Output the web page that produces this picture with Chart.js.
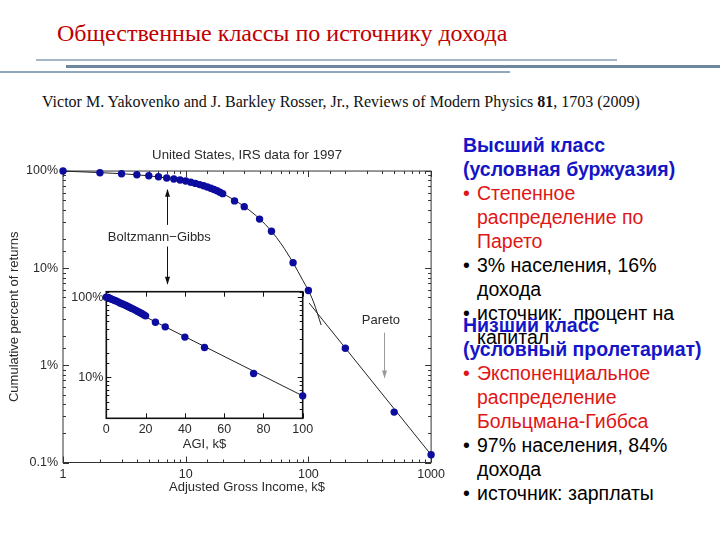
<!DOCTYPE html>
<html><head><meta charset="utf-8">
<script src="https://cdn.jsdelivr.net/npm/chart.js@4"></script>
<style>
html,body{margin:0;padding:0;background:#fff;}
body{width:720px;height:540px;position:relative;overflow:hidden;font-family:"Liberation Sans",Arial,sans-serif;}
#title{position:absolute;left:57px;top:18px;font-family:"Liberation Serif","Times New Roman",serif;font-size:24px;color:#c00000;white-space:nowrap;line-height:30px}
.hl{position:absolute;height:2px;}
#cite{position:absolute;left:42px;top:92px;font-family:"Liberation Serif","Times New Roman",serif;font-size:16px;color:#111;white-space:nowrap;line-height:20px}
.blk{position:absolute;left:463px;font-size:19.5px;line-height:24px;white-space:nowrap;color:#000}
.h{font-weight:bold;color:#1515c8}
.it{position:relative;padding-left:14px}
.it:before{content:"\2022";position:absolute;left:0;top:0}
.red{color:#e01515}
canvas{position:absolute}
</style></head>
<body>
<div id="title">Общественные классы по источнику дохода</div>
<div class="hl" style="left:36px;width:581px;top:59px;background:#a6b8c7"></div>
<div class="hl" style="left:66px;width:654px;top:65px;height:2.5px;background:#6d889e"></div>
<div class="hl" style="left:0;width:510px;top:71px;background:#8fa8bc"></div>
<div id="cite">Victor M. Yakovenko and J. Barkley Rosser, Jr., Reviews of Modern Physics <b>81</b>, 1703 (2009)</div>

<canvas id="main" width="450" height="360" style="left:0;top:140px"></canvas>
<canvas id="inset" width="290" height="190" style="left:40px;top:270px"></canvas>

<div class="blk" style="top:133px">
<div class="h">Высший класс</div>
<div class="h">(условная буржуазия)</div>
<div class="it red">Степенное<br>распределение по<br>Парето</div>
<div class="it">3% населения, 16%<br>дохода</div>
<div class="it">источник:&nbsp; процент на<br>капитал</div>
</div>
<div class="blk" style="top:313px">
<div class="h">Низший класс</div>
<div class="h">(условный пролетариат)</div>
<div class="it red">Экспоненциальное<br>распределение<br>Больцмана-Гиббса</div>
<div class="it">97% населения, 84%<br>дохода</div>
<div class="it">источник: зарплаты</div>
</div>

<script>
// ---- data ----
const agiMain = [1,2,3,4,5,6,7,8,9,10,11,12,13,14,15,16,17,18,19,20,25,30,40,50,75,100,200,500,1000];
const pctMain = [100,96.1,93.8,91.6,89.5,87.4,84.7,82.8,80.8,79,76.8,74.6,72.5,70.5,68.5,66.5,64.5,62.7,60.5,58.5,49.3,43,32,24,11.4,5.9,1.5,0.33,0.12];

const agiInset = [0,1,2,3,4,5,6,7,8,9,10,11,12,13,14,15,16,17,18,19,20,25,30,40,50,75,100];
const pctInset = [100,99,96.1,93.8,91.6,89.5,87.4,84.7,82.8,80.8,79,76.8,74.6,72.5,70.5,68.5,66.5,64.5,62.7,60.5,58.5,48.8,42.7,31.8,23.6,11.2,5.9];

const bgFitAgi = [1,2,4,7,10,15,20,30,40,50,60,75,90,100,110,127];
const bgFitPct = [100,96.3,91.6,84.8,79,68.6,58.6,43.2,32.2,24,17.8,11.4,7.5,5.9,4.5,2.6];

const paretoAgi = [101.5,1000];
const paretoPct = [4.37,0.12];

const insetFitAgi = [0,100];
const insetFitPct = [100,5.9];

const mainXTicks = [1,10,100,1000];
const mainYTicks = [0.1,1,10,100];
const insetYTicks = [10,100];

// ---- helpers ----
const pts = (xs, ys) => xs.map((x, i) => ({x, y: ys[i]}));
const near = (v, list) => list.some(t => Math.abs(v - t) < 1e-6 * Math.max(1, t));
const pctLabel = v => (v < 1 ? v.toFixed(1) : String(Math.round(v))) + '%';
const DOT = '#0c0c9e';
const TXT = '#2a2a2a';
const FAM = '"Liberation Sans", Arial, sans-serif';

const frameTicks = {
  id: 'frameTicks',
  beforeDatasetsDraw(chart, args, o) {
    const {ctx, chartArea: a, scales} = chart;
    ctx.save();
    ctx.strokeStyle = o.color;
    ctx.lineWidth = 1;
    ctx.beginPath();
    scales.x.ticks.forEach(t => {
      const p = Math.round(scales.x.getPixelForValue(t.value)) + 0.5;
      const len = t.label ? o.major : o.minor;
      ctx.moveTo(p, a.bottom); ctx.lineTo(p, a.bottom - len);
      ctx.moveTo(p, a.top); ctx.lineTo(p, a.top + len);
    });
    scales.y.ticks.forEach(t => {
      const p = Math.round(scales.y.getPixelForValue(t.value)) + 0.5;
      const len = t.label ? o.major : o.minor;
      ctx.moveTo(a.left, p); ctx.lineTo(a.left + len, p);
      ctx.moveTo(a.right, p); ctx.lineTo(a.right - len, p);
    });
    ctx.stroke();
    ctx.lineWidth = o.width;
    ctx.strokeRect(a.left, a.top, a.right - a.left, a.bottom - a.top);
    ctx.restore();
  }
};

function arrow(ctx, x, y0, y1, color) {
  ctx.strokeStyle = color; ctx.fillStyle = color; ctx.lineWidth = 1;
  ctx.beginPath(); ctx.moveTo(x, y0); ctx.lineTo(x, y1); ctx.stroke();
  const d = Math.sign(y1 - y0);
  ctx.beginPath(); ctx.moveTo(x, y1 + d); ctx.lineTo(x - 2.5, y1 - d * 7); ctx.lineTo(x + 2.5, y1 - d * 7); ctx.closePath(); ctx.fill();
}

const annotations = {
  id: 'annotations',
  afterDatasetsDraw(chart) {
    const {ctx, scales: {x, y}} = chart;
    ctx.save();
    ctx.font = '13px ' + FAM;
    ctx.fillStyle = TXT;
    ctx.textAlign = 'center';
    ctx.textBaseline = 'middle';
    ctx.fillText('Boltzmann\u2212Gibbs', x.getPixelForValue(6.1), y.getPixelForValue(20.6));
    ctx.fillText('Pareto', x.getPixelForValue(390), y.getPixelForValue(2.9));
    const bx = Math.round(x.getPixelForValue(7.05)) + 0.5;
    arrow(ctx, bx, y.getPixelForValue(27.9), y.getPixelForValue(64), '#111');
    arrow(ctx, bx, y.getPixelForValue(16.7), y.getPixelForValue(6.9), '#111');
    const px = Math.round(x.getPixelForValue(413)) + 0.5;
    arrow(ctx, px, y.getPixelForValue(2.17), y.getPixelForValue(0.75), '#9a9a9a');
    ctx.restore();
  }
};

Chart.defaults.font.family = FAM;
Chart.defaults.color = TXT;

new Chart(document.getElementById('main'), {
  type: 'line',
  data: {
    datasets: [
      {data: pts(agiMain, pctMain), showLine: false, pointRadius: 3.7, pointBackgroundColor: DOT, pointBorderWidth: 0, clip: false},
      {data: pts(bgFitAgi, bgFitPct), borderColor: '#222', borderWidth: 1, pointRadius: 0, cubicInterpolationMode: 'monotone', clip: false},
      {data: pts(paretoAgi, paretoPct), borderColor: '#222', borderWidth: 1, pointRadius: 0, clip: false}
    ]
  },
  options: {
    responsive: false, animation: false, events: [],
    layout: {padding: {left: 0, right: 16, top: 0, bottom: 0}},
    plugins: {
      legend: {display: false}, tooltip: {enabled: false},
      title: {display: true, text: 'United States, IRS data for 1997', color: TXT, fullSize: false,
              font: {size: 13.2, weight: 'normal'}, padding: {top: 7, bottom: 8.2}},
      frameTicks: {color: '#333', width: 1, major: 6, minor: 3}
    },
    scales: {
      x: {type: 'logarithmic', min: 1, max: 1000, position: 'bottom',
          grid: {display: false, drawTicks: false}, border: {display: false},
          ticks: {autoSkip: false, maxRotation: 0, padding: 5, font: {size: 12.5},
                  callback: v => near(v, mainXTicks) ? String(Math.round(v)) : ''},
          title: {display: true, text: 'Adjusted Gross Income, k$', font: {size: 13}, padding: {top: 0, bottom: 5}},
          afterFit: s => { s.height = 37.5; }},
      y: {type: 'logarithmic', min: 0.1, max: 100,
          grid: {display: false, drawTicks: false}, border: {display: false},
          ticks: {autoSkip: false, padding: 5, font: {size: 12.5},
                  callback: v => near(v, mainYTicks) ? pctLabel(v) : ''},
          title: {display: true, text: 'Cumulative percent of returns', font: {size: 13}, padding: {top: 7, bottom: 0}},
          afterFit: s => { s.width = 63; }}
    }
  },
  plugins: [frameTicks, annotations]
});

new Chart(document.getElementById('inset'), {
  type: 'line',
  data: {
    datasets: [
      {data: pts(agiInset, pctInset), showLine: false, pointRadius: 3.7, pointBackgroundColor: DOT, pointBorderWidth: 0, clip: false},
      {data: pts(insetFitAgi, insetFitPct), borderColor: '#222', borderWidth: 1, pointRadius: 0, clip: false}
    ]
  },
  options: {
    responsive: false, animation: false, events: [],
    layout: {padding: {left: 0, right: 27.3, top: 21.7, bottom: 4.2}},
    plugins: {
      legend: {display: false}, tooltip: {enabled: false},
      frameTicks: {color: '#111', width: 1.6, major: 5, minor: 3}
    },
    scales: {
      x: {type: 'linear', min: 0, max: 100,
          grid: {display: false, drawTicks: false}, border: {display: false},
          ticks: {stepSize: 20, padding: 4, maxRotation: 0, font: {size: 12.5}},
          title: {display: true, text: 'AGI, k$', font: {size: 13}, padding: {top: 0, bottom: 4}},
          afterFit: s => { s.height = 37.5; }},
      y: {type: 'logarithmic', min: 3.1, max: 117,
          grid: {display: false, drawTicks: false}, border: {display: false},
          ticks: {autoSkip: false, padding: 3, font: {size: 12.5},
                  callback: v => near(v, insetYTicks) ? pctLabel(v) : ''},
          afterFit: s => { s.width = 66.3; }}
    }
  },
  plugins: [frameTicks]
});
</script>
</body></html>
